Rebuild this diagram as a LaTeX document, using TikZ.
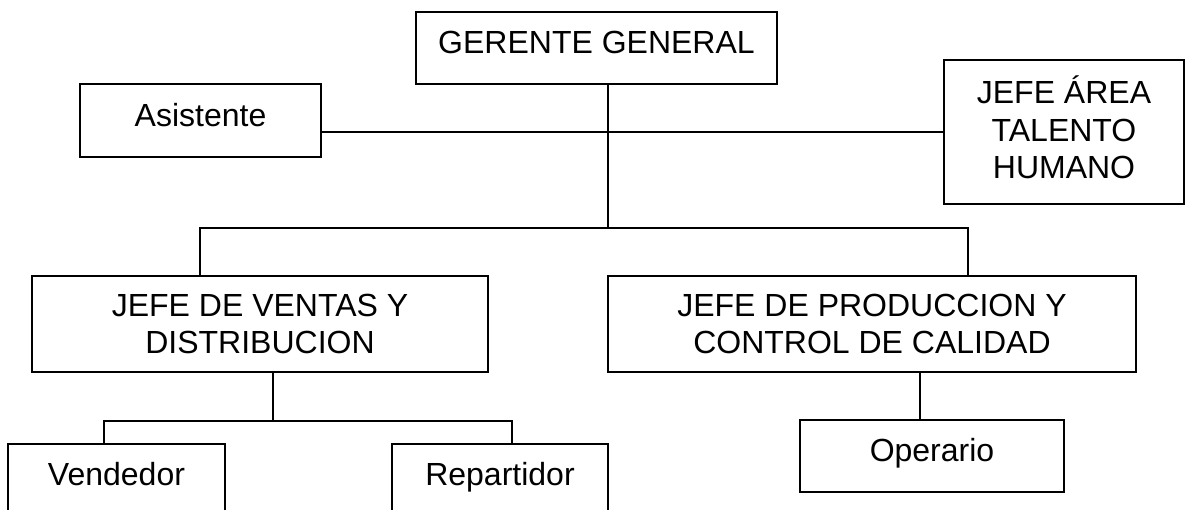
\documentclass[tikz,border=0pt]{standalone}
\usepackage{fontspec}
\setmainfont{Liberation Sans}
\begin{document}
\begin{tikzpicture}[x=0.75pt,y=-0.75pt,
    caja/.style={draw,line width=0.8pt,inner sep=0pt,align=center,
      font=\fontsize{24}{28}\selectfont},
    una/.style={text depth=9pt},
    linea/.style={line width=0.8pt}]
    \useasboundingbox (0,0) rectangle (1185,510);
    \clip (0,0) rectangle (1185,510);
    \node[caja,una,minimum width=361*0.75pt,minimum height=72*0.75pt] (gg) at (596.5,48) {GERENTE GENERAL};
    \node[caja,una,minimum width=241*0.75pt,minimum height=73*0.75pt] (asis) at (200.5,120.5) {Asistente};
    \node[caja,text depth=7pt,minimum width=240*0.75pt,minimum height=144*0.75pt] (talento) at (1064,132) {JEFE ÁREA\\TALENTO\\HUMANO};
    \node[caja,minimum width=456*0.75pt,minimum height=96*0.75pt] (ventas) at (260,324) {JEFE DE VENTAS Y\\DISTRIBUCION};
    \node[caja,minimum width=528*0.75pt,minimum height=96*0.75pt] (prod) at (872,324) {JEFE DE PRODUCCION Y\\CONTROL DE CALIDAD};
    \node[caja,una,minimum width=217*0.75pt,minimum height=72*0.75pt] (vend) at (116.5,480) {Vendedor};
    \node[caja,una,minimum width=216*0.75pt,minimum height=72*0.75pt] (repa) at (500,480) {Repartidor};
    \node[caja,una,minimum width=264*0.75pt,minimum height=72*0.75pt] (oper) at (932,456) {Operario};
    % puntos de union
    \coordinate (tronco) at (608,228);
    \coordinate (dV) at (200,228);
    \coordinate (dP) at (968,228);
    \coordinate (bM) at (273,421);
    \coordinate (bV) at (104,421);
    \coordinate (bR) at (512,421);
    \coordinate (bO) at (920,400);
    \draw[linea] (gg.south -| tronco) -- (tronco);
    \draw[linea] (asis.east |- talento.west) -- (talento.west);
    \draw[linea] (ventas.north -| dV) -- (dV) -- (dP) -- (prod.north -| dP);
    \draw[linea] (ventas.south -| bM) -- (bM);
    \draw[linea] (vend.north -| bV) -- (bV) -- (bR) -- (repa.north -| bR);
    \draw[linea] (prod.south -| bO) -- (oper.north -| bO);
\end{tikzpicture}
\end{document}
